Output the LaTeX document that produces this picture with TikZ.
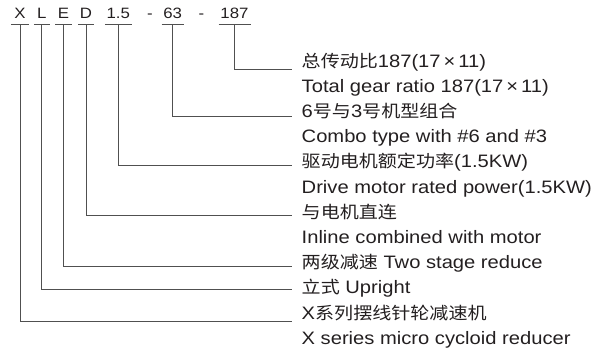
\documentclass[tikz,border=0pt]{standalone}
\usepackage{fontspec}
\setmainfont{Liberation Sans}[FakeStretch=1.12]
\newfontfamily\cjk{Noto Sans CJK SC}[FakeStretch=1.12,Scale=0.945]
\definecolor{txt}{HTML}{231F20}
\definecolor{lc}{HTML}{505050}
\tikzset{
  code/.style={font=\fontsize{15}{15}\selectfont, inner sep=0pt, anchor=south,
    text height=10.5pt, text depth=5pt, text=txt},
  desc/.style={font=\fontsize{18}{20}\selectfont, inner sep=0pt, anchor=base west, text=txt},
  ln/.style={draw=lc, line width=0.8pt},
}
\begin{document}
\begin{tikzpicture}[x=1pt,y=-1pt]
\useasboundingbox (0,0) rectangle (600,351);
% code letters
\node[code, minimum width=18pt]   (cX)  at (20,24)    {X};
\node[code, minimum width=15.5pt] (cL)  at (41.7,24)  {L};
\node[code, minimum width=15.7pt] (cE)  at (63.5,24)  {E};
\node[code, minimum width=15.5pt] (cD)  at (86,24)    {D};
\node[code, minimum width=26.7pt] (c15) at (118.3,24) {1.5};
\node[code] (h1) at (150,24) {-};
\node[code, minimum width=21.6pt] (c63) at (172.7,24) {63};
\node[code] (h2) at (201.5,24) {-};
\node[code, minimum width=31.6pt] (c187) at (234.5,24) {187};
\foreach \n in {cX,cL,cE,cD,c15,c63,c187}
  \draw[ln] (\n.south west) -- (\n.south east);
% descriptions
\node[desc] (t1)  at (301.5,67.1)  {{\cjk 总传动比}187(17\,×\,11)};
\node[desc] (t2)  at (301.5,92.3)  {Total gear ratio 187(17\,×\,11)};
\node[desc] (t3)  at (301.5,117.5) {6{\cjk 号与}3{\cjk 号机型组合}};
\node[desc] (t4)  at (301.5,142.7) {Combo type with \#6 and \#3};
\node[desc] (t5)  at (301.5,167.9) {{\cjk 驱动电机额定功率}(1.5KW)};
\node[desc] (t6)  at (301.5,193.1) {Drive motor rated power(1.5KW)};
\node[desc] (t7)  at (301.5,218.3) {{\cjk 与电机直连}};
\node[desc] (t8)  at (301.5,243.5) {Inline combined with motor};
\node[desc] (t9)  at (301.5,268.7) {{\cjk 两级减速} Two stage reduce};
\node[desc] (t10) at (301.5,293.9) {{\cjk 立式} Upright};
\node[desc] (t11) at (301.5,319.1) {X{\cjk 系列摆线针轮减速机}};
\node[desc] (t12) at (301.5,344.3) {X series micro cycloid reducer};
% connector ends
\coordinate (e187) at (291.7,69.3);
\coordinate (e63)  at (291.7,116.7);
\coordinate (e15)  at (291.7,165);
\coordinate (eD)   at (291.7,215.7);
\coordinate (eE)   at (291.7,266);
\coordinate (eL)   at (291.7,289);
\coordinate (eX)   at (291.7,321.7);
\draw[ln] (c187.south) |- (e187);
\draw[ln] (c63.south)  |- (e63);
\draw[ln] (c15.south)  |- (e15);
\draw[ln] (cD.south)   |- (eD);
\draw[ln] (cE.south)   |- (eE);
\draw[ln] (cL.south)   |- (eL);
\draw[ln] (cX.south)   |- (eX);
\end{tikzpicture}
\end{document}
